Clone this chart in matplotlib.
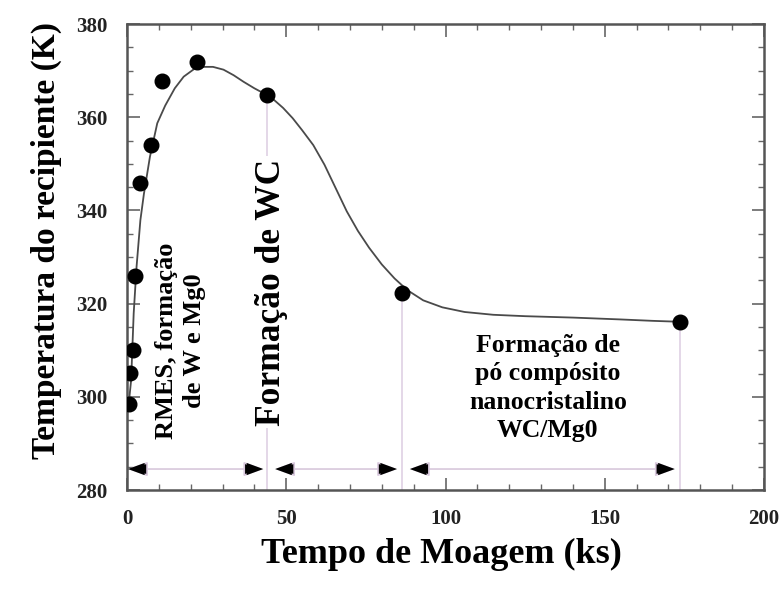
import matplotlib
matplotlib.use("Agg")
import matplotlib.pyplot as plt

# ---- data ----
time_pts = [0.6, 0.9, 1.9, 2.4, 4.0, 7.6, 11.1, 22.0, 43.9, 86.3, 173.5]
temp_pts = [298.4, 305.1, 310.0, 325.9, 345.8, 354.0, 367.7, 371.9, 364.7, 322.2, 316.1]

curve_t = [0.5, 1.3, 2.1, 3.0, 4.2, 5.3, 7.2, 9.5, 12.0, 15.0, 17.8, 21.0, 24.1, 27.0,
           30.3, 33.5, 36.6, 40.0, 43.0, 46.0, 49.0, 52.0, 55.0, 58.5, 62.0, 65.5,
           69.0, 72.5, 76.0, 80.0, 84.0, 88.0, 93.0, 99.0, 106.0, 115.0, 125.0,
           140.0, 155.0, 165.0, 173.5]
curve_T = [298.2, 303.6, 317.9, 327.9, 337.9, 343.5, 351.5, 358.7, 362.5, 366.2, 368.7,
           370.3, 370.8, 370.8, 370.2, 369.0, 367.6, 366.2, 365.1, 363.8, 362.0, 359.8,
           357.2, 354.0, 349.8, 344.8, 339.8, 335.6, 332.0, 328.4, 325.4, 322.9, 320.7,
           319.2, 318.2, 317.6, 317.3, 317.0, 316.6, 316.3, 316.1]

# stage boundaries (vertical guide lines) and stage arrows
boundary_t = [43.9, 86.3, 173.5]
boundary_T = [364.7, 322.2, 316.1]
arrow_start = [0.3, 46.5, 88.8]
arrow_end = [42.8, 84.8, 172.0]
arrow_level = 284.5

xticks = [0, 50, 100, 150, 200]
yticks = [280, 300, 320, 340, 360, 380]

stage_texts = ["RMES, formação\nde W e Mg0", "Formação de WC",
               "Formação de\npó compósito\nnanocristalino\nWC/Mg0"]

serif = ["Liberation Serif", "DejaVu Serif"]

fig = plt.figure(figsize=(7.84, 5.89), dpi=100)
ax = fig.add_axes([127 / 784, 1 - 490 / 589, (764 - 127) / 784, (490 - 24) / 589])

ax.set_xlim(0, 200)
ax.set_ylim(280, 380)

# vertical guide lines
for bt, bT in zip(boundary_t, boundary_T):
    ax.plot([bt, bt], [280, bT], color="#e2d4e6", lw=1.3, zorder=1)

# arrows
for a0, a1 in zip(arrow_start, arrow_end):
    ax.annotate("", xy=(a1, arrow_level), xytext=(a0, arrow_level),
                arrowprops=dict(arrowstyle="<|-|>,head_length=0.6,head_width=0.22",
                                mutation_scale=20, shrinkA=0, shrinkB=0,
                                edgecolor="#d8c8dc", facecolor="black", lw=1.2),
                zorder=2)
    ax.annotate("", xy=(a1, arrow_level), xytext=(a0, arrow_level),
                arrowprops=dict(arrowstyle="<|-|>,head_length=0.6,head_width=0.22",
                                mutation_scale=20, shrinkA=0, shrinkB=0,
                                edgecolor="none", facecolor="black", lw=0),
                zorder=3)

# fitted curve and data points
ax.plot(curve_t, curve_T, color="#4a4a4a", lw=1.3, zorder=3)
ax.plot(time_pts, temp_pts, "o", color="black", markersize=10.5, zorder=4)

# stage texts
ax.text(16.8, 312.0, stage_texts[0], rotation=90, ha="center", va="center",
        multialignment="center", fontsize=19, fontweight="bold", family=serif,
        linespacing=1.25, zorder=5)
ax.text(45.3, 322.5, stage_texts[1], rotation=90, ha="center", va="center",
        fontsize=25.5, fontweight="bold", family=serif, zorder=5,
        bbox=dict(facecolor="white", edgecolor="none", pad=2))
ax.text(132.1, 301.9, stage_texts[2], ha="center", va="center",
        multialignment="center", fontsize=18.5, fontweight="bold", family=serif,
        linespacing=1.3, zorder=5)

# axes styling
for s in ax.spines.values():
    s.set_color("#555555")
    s.set_linewidth(1.8)

ax.set_xticks(xticks)
ax.set_yticks(yticks)
ax.set_xticks(range(0, 201, 10), minor=True)
ax.set_yticks(range(280, 381, 5), minor=True)
ax.tick_params(which="both", direction="in", top=True, right=True, colors="#666666")
ax.tick_params(which="major", length=9, width=1.2, pad=14, labelsize=15, labelcolor="#222222")
ax.tick_params(which="minor", length=4.5, width=1.0)
for lab in ax.get_xticklabels() + ax.get_yticklabels():
    lab.set_family(serif)
    lab.set_fontweight("bold")

ax.set_xlabel("Tempo de Moagem (ks)", fontsize=26, fontweight="bold", family=serif, va="center")
ax.set_ylabel("Temperatura do recipiente (K)", fontsize=24, fontweight="bold", family=serif, va="center")
ax.xaxis.set_label_coords(0.493, -0.139)
ax.yaxis.set_label_coords(-0.126, 0.535)

fig.savefig("out.png", dpi=100)
